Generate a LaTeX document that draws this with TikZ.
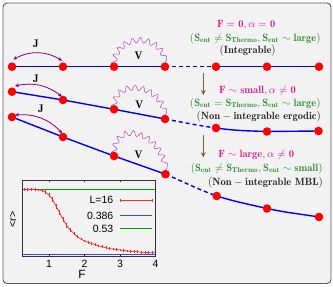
\documentclass[tikz,border=0pt]{standalone}
\usepackage{fontspec}
\newfontfamily\plotfont{Liberation Sans}
\usetikzlibrary{decorations.pathmorphing,arrows.meta}
\definecolor{bgc}{HTML}{F2F2F2}
\definecolor{framec}{HTML}{5A5A5A}
\definecolor{magc}{RGB}{230,25,140}
\definecolor{grnc}{RGB}{47,143,47}
\definecolor{jc}{RGB}{128,0,128}
\definecolor{wavec}{RGB}{180,70,190}
\definecolor{brc}{RGB}{125,95,60}
\definecolor{plotgreen}{RGB}{0,160,0}
\pgfdeclarelayer{bglayer}
\pgfdeclarelayer{linelayer}
\pgfsetlayers{bglayer,linelayer,main}
\tikzset{
  site/.style={circle,fill=red,inner sep=0pt,minimum size=8.6pt},
  chain/.style={draw=blue,line width=1.4pt},
  chaindash/.style={draw=blue,line width=1.4pt,dash pattern=on 4pt off 3pt},
  jarrow/.style={draw=jc,line width=0.8pt,{Stealth[length=4pt,width=3.5pt]}-{Stealth[length=4pt,width=3.5pt]}},
  wave/.style={draw=wavec,line width=0.5pt,decorate,decoration={snake,amplitude=2.7pt,segment length=7.8pt,pre length=1pt,post length=1pt}},
  flow/.style={draw=brc,line width=1.1pt,-{Stealth[length=5pt,width=5pt]}},
  lbl/.style={inner sep=0pt,font=\fontsize{11}{12}\selectfont},
  txt/.style={inner sep=0pt,font=\fontsize{10.5}{12}\selectfont},
  magtext/.style={txt,text=magc},
  grntext/.style={txt,text=grnc},
  blktext/.style={txt,text=black!85},
  pframe/.style={draw=black!80,line width=0.6pt},
  ptick/.style={draw=black!80,line width=0.5pt},
  pfont/.style={inner sep=0pt,font=\plotfont\fontsize{10.5}{12}\selectfont},
  errbar/.style={draw=red!85,line width=0.5pt},
}
\begin{document}
\begin{tikzpicture}[x=1pt,y=1pt]
\useasboundingbox (0,0) rectangle (333,287);
\begin{pgfonlayer}{bglayer}
\draw[framec,fill=bgc,line width=0.9pt,rounded corners=4pt] (3,3.5) rectangle (331,284);
\end{pgfonlayer}

% sites
\node[site] (a1) at (12,220.3) {};
\node[site] (b1) at (63,220.3) {};
\node[site] (c1) at (114,220.3) {};
\node[site] (d1) at (165,220.3) {};
\node[site] (e1) at (216,220.3) {};
\node[site] (f1) at (267,220.3) {};
\node[site] (g1) at (319,220.3) {};

\node[site] (a2) at (12,195.3) {};
\node[site] (b2) at (63,187) {};
\node[site] (c2) at (114,177.7) {};
\node[site] (d2) at (165,168) {};
\node[site] (e2) at (216,159) {};
\node[site] (f2) at (267,155.5) {};
\node[site] (g2) at (318.5,156) {};

\node[site] (a3) at (12,170) {};
\node[site] (b3) at (63,150) {};
\node[site] (c3) at (114,131) {};
\node[site] (d3) at (165.5,112.8) {};
\node[site] (e3) at (216.7,91) {};
\node[site] (f3) at (267,78.5) {};
\node[site] (g3) at (319,70) {};

\begin{pgfonlayer}{linelayer}
\draw[chain] (a1.center) -- (b1.center) -- (c1.center) -- (d1.center);
\draw[chaindash] (d1.center) -- (e1.center);
\draw[chain] (e1.center) -- (f1.center) -- (g1.center);

\draw[chain] (a2.center) -- (b2.center) -- (c2.center) -- (d2.center);
\draw[chaindash] (d2.center) to[out=-10.5,in=172] (e2.center);
\draw[chain] (e2.center) to[out=-8,in=178] (f2.center) -- (g2.center);

\draw[chain] (a3.center) -- (b3.center) -- (c3.center) -- (d3.center);
\draw[chaindash] (d3.center) to[out=-23,in=160] (e3.center);
\draw[chain] (e3.center) to[out=-17,in=167] (f3.center) to[out=-12,in=171] (g3.center);

\draw[wave] (c1.center) to[out=90,in=90,looseness=1.65] (d1.center);
\draw[wave] (c2.center) to[out=90,in=90,looseness=1.575] (d2.center);
\draw[wave] (c3.center) to[out=90,in=90,looseness=1.78] (d3.center);
\end{pgfonlayer}

% hopping arrows
\draw[jarrow] ([shift={(1.3,7.2)}]a1.center) to[bend left=30] ([shift={(-1,6)}]b1.center);
\draw[jarrow] ([shift={(3,5.7)}]a2.center) to[bend left=25] ([shift={(-1,3.3)}]b2.center);
\draw[jarrow] ([shift={(3,2)}]a3.center) to[bend left=25] ([shift={(-0.7,3.7)}]b3.center);

\node[lbl] (J1) at (36,243.7) {$\mathbf{J}$};
\node[lbl] (J2) at (36,208) {$\mathbf{J}$};
\node[lbl] (J3) at (41,178) {$\mathbf{J}$};
\node[lbl] (V1) at (138.5,231) {$\mathbf{V}$};
\node[lbl] (V2) at (139.3,182.7) {$\mathbf{V}$};
\node[lbl] (V3) at (138.5,132.7) {$\mathbf{V}$};

% regime texts
\node[magtext] (m1) at (246.2,262) {$\mathbf{F=0,\alpha=0}$};
\node[grntext] (s1) at (255.3,248.7) {$\mathbf{(S_{ent}\neq S_{Thermo},S_{ent}\sim large)}$};
\node[blktext] (k1) at (247.7,236) {$\mathbf{(Integrable)}$};

\node[magtext] (m2) at (257.5,196.3) {$\mathbf{F\sim small,\alpha\neq 0}$};
\node[grntext] (s2) at (255.3,183.7) {$\mathbf{(S_{ent}=S_{Thermo},S_{ent}\sim large)}$};
\node[blktext] (k2) at (258.7,170.3) {$\mathbf{(Non-integrable\ ergodic)}$};

\node[magtext] (m3) at (256.3,132) {$\mathbf{F\sim large,\alpha\neq 0}$};
\node[grntext] (s3) at (256.7,118.7) {$\mathbf{(S_{ent}\neq S_{Thermo},S_{ent}\sim small)}$};
\node[blktext] (k3) at (265.5,104.3) {$\mathbf{(Non-integrable\ MBL)}$};

% flow arrows
\coordinate (u1) at (203.3,214);
\coordinate (u2) at (203.3,192);
\coordinate (w1) at (203.3,152);
\coordinate (w2) at (203.3,129.7);
\draw[flow] (u1) -- (u2);
\draw[flow] (w1) -- (w2);

% inset plot
\begin{scope}[shift={(13.47pt,-143.15pt)},x=35.5pt,y=455pt]
\draw[plotgreen,line width=0.6pt] (0.26,0.53) -- (4,0.53);
\draw[blue!75,line width=1.2pt] (0.26,0.386) -- (4,0.386);
\draw[red!85,line width=0.7pt] plot coordinates {
(0.26,0.529)(0.3,0.529)(0.4,0.529)(0.5,0.529)(0.6,0.529)(0.7,0.528)(0.8,0.527)(0.9,0.523)
(1.0,0.517)(1.1,0.507)(1.2,0.492)(1.3,0.478)(1.4,0.463)(1.5,0.450)(1.6,0.440)(1.7,0.432)
(1.8,0.425)(1.9,0.420)(2.0,0.416)(2.1,0.413)(2.2,0.410)(2.3,0.408)(2.4,0.405)(2.5,0.403)
(2.6,0.401)(2.7,0.399)(2.8,0.398)(2.9,0.397)(3.0,0.396)(3.1,0.395)(3.2,0.394)(3.3,0.393)
(3.4,0.392)(3.5,0.392)(3.6,0.391)(3.7,0.391)(3.8,0.390)(3.9,0.390)(4.0,0.390)};
\foreach \f/\r/\e in {0.26/0.529/0.011,0.3/0.529/0.003,0.4/0.529/0.003,0.5/0.529/0.003,0.6/0.529/0.003,
  0.7/0.528/0.003,0.8/0.527/0.003,0.9/0.523/0.004,1.0/0.517/0.005,1.1/0.507/0.006,1.2/0.492/0.006,
  1.3/0.478/0.006,1.4/0.463/0.006,1.5/0.450/0.005,1.6/0.440/0.004,1.7/0.432/0.004,1.8/0.425/0.003,
  1.9/0.420/0.003,2.0/0.416/0.003,2.1/0.413/0.003,2.2/0.410/0.003,2.3/0.408/0.003,2.4/0.405/0.003,
  2.5/0.403/0.003,2.6/0.401/0.003,2.7/0.399/0.003,2.8/0.398/0.003,2.9/0.397/0.003,3.0/0.396/0.003,
  3.1/0.395/0.003,3.2/0.394/0.003,3.3/0.393/0.003,3.4/0.392/0.003,3.5/0.392/0.003,3.6/0.391/0.003,
  3.7/0.391/0.003,3.8/0.390/0.003,3.9/0.390/0.003,4.0/0.390/0.003}
  {\draw[errbar] (\f,\r-\e) -- (\f,\r+\e);}
\draw[pframe] (0.26,0.3827) rectangle (4,0.5498);
\foreach \t in {1,2,3} {
  \draw[ptick] (\t,0.3827) -- ++(0,2.5pt);
  \draw[ptick] (\t,0.5498) -- ++(0,-2.5pt);
}
\end{scope}
\node[pfont] (t1) at (49,23) {1};
\node[pfont] (t2) at (84.5,23) {2};
\node[pfont] (t3) at (120,23) {3};
\node[pfont] (t4) at (155.5,23) {4};
\node[pfont,font=\plotfont\fontsize{12}{13}\selectfont] (xl) at (82,13) {F};
\node[pfont,rotate=90] (yl) at (13,67.5) {<r>};

\node[pfont,anchor=east] (L1) at (113.5,86.7) {L=16};
\node[pfont,anchor=east] (L2) at (113.5,71.3) {0.386};
\node[pfont,anchor=east] (L3) at (113.5,58.3) {0.53};
\coordinate (r1) at (120,86.7);
\coordinate (r2) at (152,86.7);
\coordinate (q1) at (120,71.3);
\coordinate (q2) at (152,71.3);
\coordinate (p1) at (120,58.3);
\coordinate (p2) at (152,58.3);
\draw[red!85,line width=0.7pt] (r1) -- (r2);
\draw[errbar] ([yshift=-1.5pt]r1) -- ([yshift=1.5pt]r1);
\draw[errbar] ([yshift=-1.5pt]r2) -- ([yshift=1.5pt]r2);
\draw[blue!75,line width=0.8pt] (q1) -- (q2);
\draw[plotgreen,line width=0.6pt] (p1) -- (p2);
\end{tikzpicture}
\end{document}
